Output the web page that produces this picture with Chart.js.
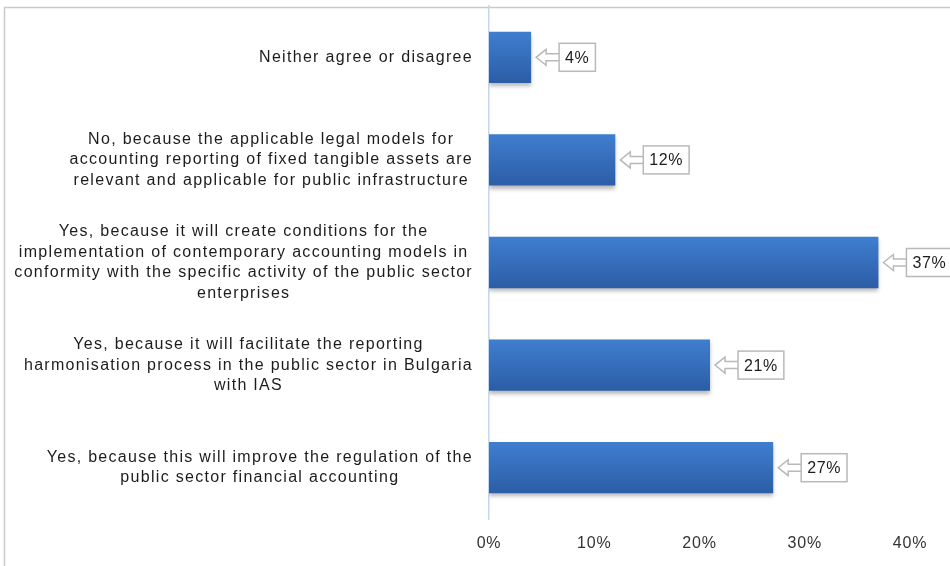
<!DOCTYPE html>
<html>
<head>
<meta charset="utf-8">
<script src="https://cdn.jsdelivr.net/npm/chart.js@4/dist/chart.umd.min.js"></script>
<style>
  html, body { margin: 0; padding: 0; background: #fff; }
  #wrap { position: relative; width: 950px; height: 566px; }
</style>
</head>
<body>
<div id="wrap"><canvas id="surveyChart"></canvas></div>
<script>
// answer categories (each one split into its printed lines)
const categories = [
    ['Neither agree or disagree'],
    ['No, because the applicable legal models for', 'accounting reporting of fixed tangible assets are', 'relevant and applicable for public infrastructure'],
    ['Yes, because it will create conditions for the', 'implementation of contemporary accounting models in', 'conformity with the specific activity of the public sector', 'enterprises'],
    ['Yes, because it will facilitate the reporting', 'harmonisation process in the public sector in Bulgaria', 'with IAS'],
    ['Yes, because this will improve the regulation of the', 'public sector financial accounting']
];
// share of respondents, %
const shares = [4, 12, 37, 21, 27];
// x axis ticks, %
const tickValues = [0, 10, 20, 30, 40];

const FONT = '"Liberation Sans", Arial, Helvetica, sans-serif';

// thin grey frame around the figure (left and top edges only visible)
const framePlugin = {
    id: 'frame',
    beforeDraw(chart) {
        const ctx = chart.ctx;
        ctx.save();
        ctx.strokeStyle = '#c6cbcb';
        ctx.lineWidth = 1.5;
        ctx.beginPath();
        ctx.moveTo(4.5, chart.height);
        ctx.lineTo(4.5, 7.5);
        ctx.lineTo(chart.width, 7.5);
        ctx.stroke();
        ctx.restore();
        // slightly looser spacing for the axis tick labels
        ctx.letterSpacing = '0.8px';
    }
};

// soft shadow under the bars
const shadowPlugin = {
    id: 'barShadow',
    beforeDatasetsDraw(chart) {
        const ctx = chart.ctx;
        ctx.save();
        ctx.shadowColor = 'rgba(0, 0, 0, 0.28)';
        ctx.shadowBlur = 4;
        ctx.shadowOffsetY = 3;
    },
    afterDatasetsDraw(chart) {
        chart.ctx.restore();
    }
};

// category labels: block right-aligned to the axis, lines centred inside the block
const categoryLabelPlugin = {
    id: 'categoryLabels',
    afterDraw(chart) {
        const ctx = chart.ctx;
        const yScale = chart.scales.y;
        const right = chart.chartArea.left - 16;
        const lineH = 20.5;
        ctx.save();
        ctx.font = '16px ' + FONT;
        ctx.letterSpacing = '1.3px';
        ctx.fillStyle = '#1c1c1c';
        ctx.textAlign = 'center';
        ctx.textBaseline = 'middle';
        categories.forEach((lines, i) => {
            const cy = yScale.getPixelForTick(i);
            const maxW = Math.max(...lines.map(l => ctx.measureText(l).width));
            const cx = right - maxW / 2;
            const y0 = cy - (lines.length - 1) * lineH / 2;
            lines.forEach((l, k) => ctx.fillText(l, cx, y0 + k * lineH));
        });
        ctx.restore();
        ctx.letterSpacing = '0px';
    }
};

// value callouts: boxed label with a hollow arrow pointing back at the bar end
const calloutPlugin = {
    id: 'callouts',
    afterDatasetsDraw(chart) {
        const ctx = chart.ctx;
        const meta = chart.getDatasetMeta(0);
        ctx.save();
        ctx.font = '16px ' + FONT;
        ctx.letterSpacing = '0.6px';
        meta.data.forEach((bar, i) => {
            const text = shares[i] + '%';
            const tw = ctx.measureText(text).width;
            const xEnd = bar.x;
            const cy = bar.y;
            const boxL = xEnd + 28;
            const boxW = tw + 12;
            const boxH = 28;
            const tip = xEnd + 5;
            const headEnd = tip + 10;

            ctx.strokeStyle = '#b9b9b9';
            ctx.lineWidth = 1.5;
            ctx.fillStyle = '#fff';
            // arrow outline
            ctx.beginPath();
            ctx.moveTo(boxL + 1, cy - 3.5);
            ctx.lineTo(headEnd, cy - 3.5);
            ctx.lineTo(headEnd, cy - 8);
            ctx.lineTo(tip, cy);
            ctx.lineTo(headEnd, cy + 8);
            ctx.lineTo(headEnd, cy + 3.5);
            ctx.lineTo(boxL + 1, cy + 3.5);
            ctx.fill();
            ctx.stroke();
            // label box
            ctx.fillRect(boxL, cy - boxH / 2, boxW, boxH);
            ctx.strokeRect(boxL, cy - boxH / 2, boxW, boxH);

            ctx.fillStyle = '#1c1c1c';
            ctx.textAlign = 'center';
            ctx.textBaseline = 'middle';
            ctx.fillText(text, boxL + boxW / 2, cy + 1);
        });
        ctx.restore();
    }
};

// vertical gradient for each bar, computed from the category scale
function barGradient(context) {
    const chart = context.chart;
    const yScale = chart.scales.y;
    if (!chart.chartArea || !yScale) return '#3a72c2';
    const c = yScale.getPixelForValue(context.dataIndex);
    const half = Math.abs(yScale.getPixelForValue(1) - yScale.getPixelForValue(0)) * 0.25;
    const g = chart.ctx.createLinearGradient(0, c - half, 0, c + half);
    g.addColorStop(0, '#3f7ecf');
    g.addColorStop(1, '#2c5da6');
    return g;
}

const ctx = document.getElementById('surveyChart').getContext('2d');
new Chart(ctx, {
    type: 'bar',
    data: {
        labels: categories,
        datasets: [{
            data: shares,
            backgroundColor: barGradient,
            borderWidth: 0,
            barPercentage: 0.5,
            categoryPercentage: 1
        }]
    },
    options: {
        indexAxis: 'y',
        responsive: true,
        maintainAspectRatio: false,
        animation: false,
        layout: { padding: { top: 6, right: 40, left: 0, bottom: 0 } },
        plugins: {
            legend: { display: false },
            tooltip: { enabled: false }
        },
        scales: {
            x: {
                min: 0,
                max: 40,
                afterBuildTicks: s => { s.ticks = tickValues.map(v => ({ value: v })); },
                grid: { display: false, drawTicks: false },
                border: { display: false },
                ticks: {
                    padding: 15,
                    color: '#333',
                    font: { family: FONT, size: 16 },
                    callback: v => v + '%'
                },
                afterFit: s => { s.height = 47; }
            },
            y: {
                grid: { display: false, drawTicks: false },
                border: { display: true, color: '#c4d7ef', width: 1.5 },
                ticks: { display: false },
                afterFit: s => { s.width = 489; }
            }
        }
    },
    plugins: [framePlugin, shadowPlugin, calloutPlugin, categoryLabelPlugin]
});
</script>
</body>
</html>
